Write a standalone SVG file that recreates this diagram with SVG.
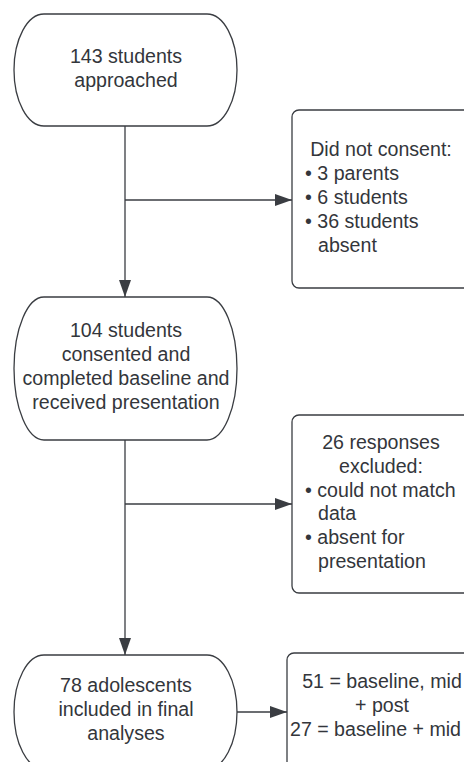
<svg xmlns="http://www.w3.org/2000/svg" width="464" height="762" viewBox="0 0 464 762">
<defs>
<style>
.shape{fill:#ffffff;stroke:#3a3d42;stroke-width:1.3}
.conn{fill:none;stroke:#3a3d42;stroke-width:1.3}
text{font-family:"Liberation Sans",Arial,sans-serif;font-size:19.6px;fill:#33363b}
.c{text-anchor:middle}
</style>
<marker id="ah" markerUnits="userSpaceOnUse" markerWidth="17" markerHeight="12" refX="17" refY="6" orient="auto">
<path d="M0,0 L17,6 L0,12 Z" fill="#3a3d42"/>
</marker>
</defs>
<rect width="464" height="762" fill="#ffffff"/>
<g id="connectors">
<line class="conn" x1="125" y1="126" x2="125" y2="297" marker-end="url(#ah)"/>
<line class="conn" x1="125" y1="200" x2="292" y2="200" marker-end="url(#ah)"/>
<line class="conn" x1="125" y1="440" x2="125" y2="655" marker-end="url(#ah)"/>
<line class="conn" x1="125" y1="504" x2="292" y2="504" marker-end="url(#ah)"/>
<line class="conn" x1="237" y1="712" x2="287" y2="712" marker-end="url(#ah)"/>
</g>
<g id="n1">
<path class="shape" d="M44,14 H207 A30,56 0 0 1 207,126 H44 A30,56 0 0 1 44,14 Z"/>
<text class="c" x="126" y="63">143 students</text>
<text class="c" x="126" y="87">approached</text>
</g>
<g id="b1">
<rect class="shape" x="292" y="110" width="180" height="178" rx="7"/>
<text class="c" x="381" y="156">Did not consent:</text>
<text x="305" y="180">• 3 parents</text>
<text x="305" y="204">• 6 students</text>
<text x="305" y="228">• 36 students</text>
<text x="318" y="252">absent</text>
</g>
<g id="n2">
<path class="shape" d="M44,297 H207 A30,71.5 0 0 1 207,440 H44 A30,71.5 0 0 1 44,297 Z"/>
<text class="c" x="126" y="337">104 students</text>
<text class="c" x="126" y="361">consented and</text>
<text class="c" x="126" y="385">completed baseline and</text>
<text class="c" x="126" y="409">received presentation</text>
</g>
<g id="b2">
<rect class="shape" x="292" y="415" width="180" height="178" rx="7"/>
<text class="c" x="381" y="449">26 responses</text>
<text class="c" x="381" y="473">excluded:</text>
<text x="305" y="497">• could not match</text>
<text x="318" y="520">data</text>
<text x="305" y="544">• absent for</text>
<text x="318" y="568">presentation</text>
</g>
<g id="n3">
<path class="shape" d="M44,655 H207 A30,57 0 0 1 207,769 H44 A30,57 0 0 1 44,655 Z"/>
<text class="c" x="126" y="692">78 adolescents</text>
<text class="c" x="126" y="716">included in final</text>
<text class="c" x="126" y="740">analyses</text>
</g>
<g id="b3">
<rect class="shape" x="287" y="653" width="190" height="120" rx="7"/>
<text class="c" x="382" y="688">51 = baseline, mid</text>
<text class="c" x="382" y="712">+ post</text>
<text x="290" y="736">27 = baseline + mid</text>
</g>
</svg>
